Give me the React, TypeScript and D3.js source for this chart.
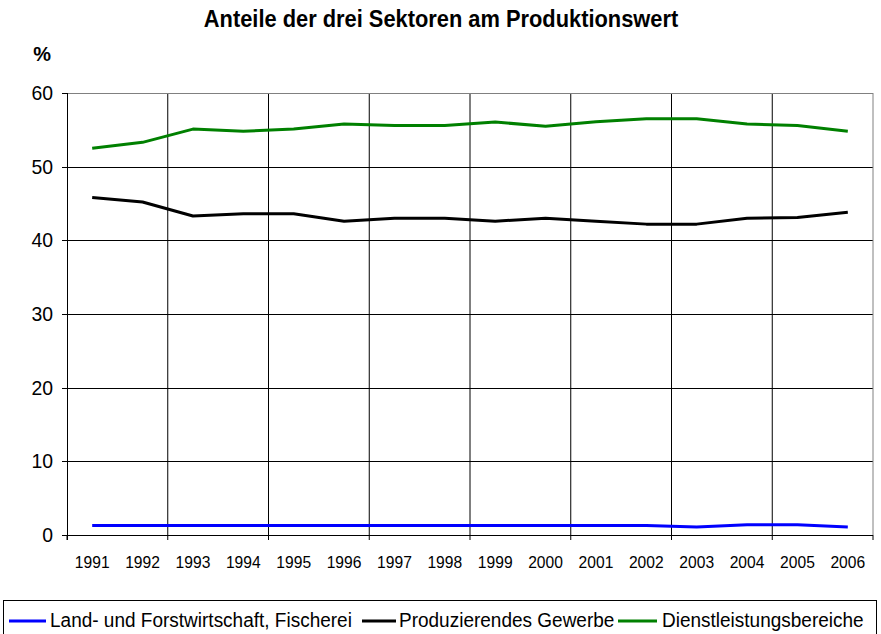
import React from "react";
import * as d3 from "d3";

const title = "Anteile der drei Sektoren am Produktionswert";
const unitLabel = "%";
const years = ["1991","1992","1993","1994","1995","1996","1997","1998","1999","2000","2001","2002","2003","2004","2005","2006"];
const agriculture = [1.3,1.3,1.3,1.3,1.3,1.3,1.3,1.3,1.3,1.3,1.3,1.3,1.1,1.4,1.4,1.1];
const industry = [45.8,45.2,43.3,43.6,43.6,42.6,43.0,43.0,42.6,43.0,42.6,42.2,42.2,43.0,43.1,43.8];
const services = [52.5,53.3,55.1,54.8,55.1,55.8,55.6,55.6,56.05,55.5,56.1,56.5,56.5,55.8,55.6,54.8];
const yTicks = [0,10,20,30,40,50,60];
const seriesNames = ["Land- und Forstwirtschaft, Fischerei","Produzierendes Gewerbe","Dienstleistungsbereiche"];
const seriesColors = ["#0000ff","#000000","#008000"];

const W = 881, H = 634;
const left = 67, right = 873, top = 93, bottom = 535;
const FONT = "'Liberation Sans', Arial, sans-serif";

function T({x,y,sx=0.87,size,anchor="start",bold=false,children}:{x:number;y:number;sx?:number;size:number;anchor?:string;bold?:boolean;children:any}){
  return <text transform={`translate(${x},${y}) scale(${sx},1)`} fontSize={size} fontFamily={FONT} fontWeight={bold?"bold":"normal"} textAnchor={anchor as any} fill="#000">{children}</text>;
}

export default function App(){
  const x = d3.scaleBand<string>().domain(years).range([left,right]).padding(0);
  const y = d3.scaleLinear().domain([0,60]).range([bottom,top]);
  const bw = x.bandwidth();
  const cx = (yr:string)=> (x(yr) as number) + bw/2;
  const line = d3.line<number>().x((_,i)=>cx(years[i])).y(d=>y(d));
  const series = [agriculture, industry, services];
  const boundaries = d3.range(0, years.length+1, 2).map(i=> left + i*bw);
  const legendItems = [
    {x1:9,x2:46,tx:50},
    {x1:362,x2:396,tx:399},
    {x1:618,x2:657,tx:662},
  ];
  return (
    <div style={{position:"absolute",left:0,top:0}}>
      <svg width={W} height={H} style={{display:"block",background:"#fff"}}>
        <rect x={0} y={0} width={W} height={H} fill="#fff"/>
        <T x={441} y={27} size={24} anchor="middle" bold sx={0.91}>{title}</T>
        <T x={42} y={61} size={21} anchor="middle" bold sx={0.95}>{unitLabel}</T>
        {yTicks.filter(t=>t>0 && t<60).map(t=>(
          <line key={"h"+t} x1={left} x2={right} y1={Math.round(y(t))+0.5} y2={Math.round(y(t))+0.5} stroke="#000" strokeWidth={1}/>
        ))}
        {boundaries.slice(1,-1).map((b,i)=>(
          <line key={"v"+i} x1={b} x2={b} y1={top} y2={bottom} stroke="#000" strokeWidth={1}/>
        ))}
        <line x1={left} x2={right} y1={top+0.5} y2={top+0.5} stroke="#808080" strokeWidth={1}/>
        <line x1={right} x2={right} y1={top} y2={bottom} stroke="#808080" strokeWidth={1}/>
        <line x1={left+0.5} x2={left+0.5} y1={top} y2={bottom+5} stroke="#000" strokeWidth={1}/>
        <line x1={left} x2={right} y1={bottom+0.5} y2={bottom+0.5} stroke="#000" strokeWidth={1}/>
        {yTicks.map(t=>(
          <g key={"yt"+t}>
            <line x1={left-5} x2={left} y1={Math.round(y(t))+0.5} y2={Math.round(y(t))+0.5} stroke="#000"/>
            <T x={53} y={y(t)+7} size={20} anchor="end" sx={0.97}>{String(t)}</T>
          </g>
        ))}
        {boundaries.map((b,i)=>(
          <line key={"xt"+i} x1={b} x2={b} y1={bottom} y2={bottom+5} stroke="#000"/>
        ))}
        {years.map(yr=>(
          <T key={yr} x={cx(yr)} y={568} size={17} anchor="middle" sx={0.92}>{yr}</T>
        ))}
        {series.map((s,i)=>(
          <path key={"s"+i} d={line(s) as string} fill="none" stroke={seriesColors[i]} strokeWidth={3} strokeLinejoin="round"/>
        ))}
        <rect x={3.5} y={600.5} width={873} height={40} fill="#fff" stroke="#000" strokeWidth={1}/>
        {legendItems.map((it,i)=>(
          <g key={"lg"+i}>
            <line x1={it.x1} x2={it.x2} y1={621} y2={621} stroke={seriesColors[i]} strokeWidth={3}/>
            <T x={it.tx} y={627} size={21} sx={0.905}>{seriesNames[i]}</T>
          </g>
        ))}
      </svg>
    </div>
  );
}
